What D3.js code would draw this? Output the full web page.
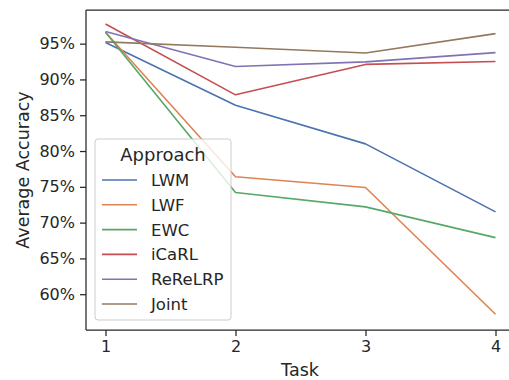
<!DOCTYPE html>
<html>
<head>
<meta charset="utf-8">
<script src="https://cdn.jsdelivr.net/npm/d3@7"></script>
<style>
  body { margin: 0; background: #fff; }
  svg { display: block; font-family: "DejaVu Sans", sans-serif; }
</style>
</head>
<body>
<svg id="chart"></svg>
<script>
const tasks = [1, 2, 3, 4];
const approaches = ["LWM", "LWF", "EWC", "iCaRL", "ReReLRP", "Joint"];
const lwm = [95.15, 86.4, 81.0, 71.5];
const lwf = [96.6, 76.4, 74.9, 57.2];
const ewc = [96.6, 74.2, 72.2, 67.9];
const icarl = [97.75, 87.85, 92.1, 92.5];
const rerelrp = [96.7, 91.8, 92.45, 93.75];
const joint = [95.25, 94.5, 93.7, 96.4];
const yTicks = [60, 65, 70, 75, 80, 85, 90, 95];
const colors = ["#4c72b0", "#dd8452", "#55a868", "#c44e52", "#8172b3", "#937860"];

const seriesValues = [lwm, lwf, ewc, icarl, rerelrp, joint];
const series = approaches.map((name, i) => ({
  name,
  color: colors[i],
  values: tasks.map((t, j) => ({ task: t, acc: seriesValues[i][j] })),
}));

const W = 509, H = 380;
const margin = { top: 10, right: -6, bottom: 50, left: 86 };
const width = W - margin.left - margin.right;
const height = H - margin.top - margin.bottom;
const ink = "#262626";

const svg = d3.select("#chart").attr("width", W).attr("height", H);
const g = svg.append("g").attr("transform", `translate(${margin.left},${margin.top})`);

const x = d3.scaleLinear().domain([0.85, 4.15]).range([0, width]);
const y = d3.scaleLinear().domain([55.0, 99.7]).range([height, 0]);

// lines
const line = d3.line().x((d) => x(d.task)).y((d) => y(d.acc));
g.selectAll(".series")
  .data(series)
  .enter()
  .append("path")
  .attr("fill", "none")
  .attr("stroke", (d) => d.color)
  .attr("stroke-width", 1.6)
  .attr("stroke-linejoin", "round")
  .attr("d", (d) => line(d.values));

// axes
const xAxis = g.append("g")
  .attr("transform", `translate(0,${height})`)
  .call(d3.axisBottom(x).tickValues(tasks).tickFormat(d3.format("d")).tickSize(6).tickPadding(5));
const yAxis = g.append("g")
  .call(d3.axisLeft(y).tickValues(yTicks).tickFormat((d) => d + "%").tickSize(6).tickPadding(5));

[xAxis, yAxis].forEach((a) => {
  a.select(".domain").remove();
  a.selectAll("line").attr("stroke", ink).attr("stroke-width", 1.25);
  a.selectAll("text").attr("fill", ink).attr("font-size", "16px")
    .attr("font-family", "DejaVu Sans");
});

// spines
g.append("line").attr("x1", 0).attr("x2", 0).attr("y1", 0).attr("y2", height)
  .attr("stroke", ink).attr("stroke-width", 1.25);
g.append("line").attr("x1", 0).attr("x2", width).attr("y1", height).attr("y2", height)
  .attr("stroke", ink).attr("stroke-width", 1.25);
g.append("line").attr("x1", 0).attr("x2", width).attr("y1", 0).attr("y2", 0)
  .attr("stroke", ink).attr("stroke-width", 1.25);

// axis labels
svg.append("text")
  .attr("x", 300).attr("y", 376)
  .attr("text-anchor", "middle")
  .attr("font-size", "17.5px")
  .attr("fill", ink)
  .text("Task");

svg.append("text")
  .attr("transform", `translate(29,${margin.top + height / 2}) rotate(-90)`)
  .attr("text-anchor", "middle")
  .attr("font-size", "17.5px")
  .attr("fill", ink)
  .text("Average Accuracy");

// legend
const legend = svg.append("g").attr("transform", "translate(95,139)");
legend.append("rect")
  .attr("width", 136).attr("height", 181)
  .attr("rx", 3)
  .attr("fill", "#fff").attr("fill-opacity", 0.8)
  .attr("stroke", "#cccccc").attr("stroke-width", 1);
legend.append("text")
  .attr("x", 68).attr("y", 22)
  .attr("text-anchor", "middle")
  .attr("font-size", "18px")
  .attr("fill", ink)
  .text("Approach");

const items = legend.selectAll(".item")
  .data(series)
  .enter()
  .append("g")
  .attr("transform", (d, i) => `translate(0,${41 + i * 24.8})`);
items.append("line")
  .attr("x1", 7).attr("x2", 42)
  .attr("stroke", (d) => d.color).attr("stroke-width", 1.6);
items.append("text")
  .attr("x", 56).attr("y", 6)
  .attr("font-size", "16.5px")
  .attr("fill", ink)
  .text((d) => d.name);
</script>
</body>
</html>
